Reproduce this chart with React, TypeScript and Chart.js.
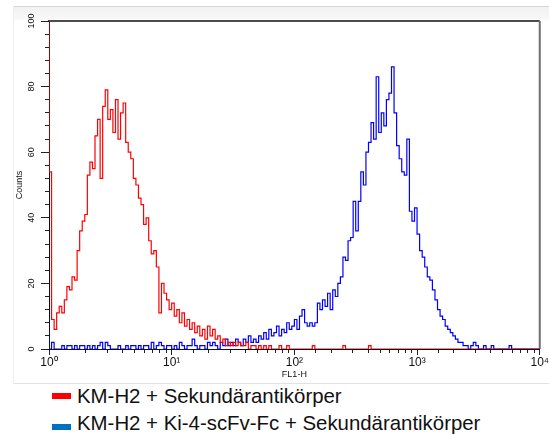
import React, { useEffect, useRef } from 'react';
import { Chart, registerables } from 'chart.js';

Chart.register(...registerables);

// ---- data -------------------------------------------------------------
const BINS_PER_DECADE = 48; // histogram bins are evenly spaced on the log axis
const X_MIN = 1;
const X_MAX = 10000;
const Y_MIN = 0;
const Y_MAX = 100;
const Y_LABEL_STEP = 20;
const Y_MINOR_STEP = 4;
const X_TICK_LABELS = ['10⁰', '10¹', '10²', '10³', '10⁴'];
const X_TITLE = 'FL1-H';
const Y_TITLE = 'Counts';
const SERIES_LABELS = [
  'KM-H2 + Sekundärantikörper',
  'KM-H2 + Ki-4-scFv-Fc + Sekundärantikörper',
];
const LINE_COLORS = ['#ff0000', '#0000ff'];
const LEGEND_COLORS = ['#ff0000', '#0070c0'];

// counts per bin (bin i sits at FL1-H = 10^(i / BINS_PER_DECADE))
const redCounts = [
  140, 54, 9, 6, 11, 13, 11, 15, 19, 18,
  22, 21, 30, 36, 39, 41, 53, 57, 55, 65,
  70, 52, 74, 79, 70, 73, 66, 76, 64, 72,
  75, 63, 60, 58, 52, 50, 46, 44, 38, 40,
  33, 29, 30, 25, 11, 20, 17, 15, 12, 14,
  10, 12, 8, 11, 7, 9, 6, 8, 5, 7,
  4, 6, 3, 7, 4, 6, 3, 4, 2, 3,
  1, 2, 1, 2, 1, 2, 1, 1, 2, 0,
  1, 1, 0, 1, 0, 1, 0, 1, 0, 0,
  0, 1, 0, 0, 1, 0, 0, 0, 0, 0,
  0, 0, 0, 0, 1, 0, 0, 0, 0, 0,
  0, 0, 0, 0, 0, 0, 1, 0, 0, 0,
  0, 0, 0, 0, 0, 0, 1, 0, 0, 0,
  0, 0, 0, 0, 0, 0, 0, 0, 0, 0,
  0, 0, 0, 0, 0, 0, 0, 0, 0, 0,
  0, 0, 0, 0, 0, 0, 0, 0, 0, 0,
  0, 0, 0, 0, 0, 0, 0, 0, 0, 0,
  0, 0, 0, 0, 0, 0, 0, 0, 0, 0,
  0, 0, 0, 0, 0, 0, 0, 0, 0, 0,
  0, 0, 0,
];

const blueCounts = [
  7, 0, 2, 0, 0, 0, 1, 0, 1, 1,
  0, 1, 0, 1, 1, 0, 1, 0, 1, 0,
  1, 2, 0, 2, 1, 0, 0, 0, 1, 0,
  0, 1, 0, 1, 1, 0, 1, 0, 1, 1,
  0, 2, 0, 1, 2, 1, 0, 1, 1, 0,
  1, 0, 2, 1, 0, 1, 1, 3, 1, 0,
  1, 1, 0, 2, 1, 2, 1, 0, 2, 1,
  3, 1, 2, 1, 3, 2, 1, 3, 2, 4,
  2, 3, 2, 4, 3, 5, 3, 6, 4, 5,
  7, 4, 6, 5, 8, 6, 7, 9, 6, 10,
  12, 8, 7, 8, 7, 8, 14, 12, 15, 13,
  17, 12, 18, 16, 20, 22, 28, 27, 33, 34,
  45, 36, 45, 54, 50, 60, 63, 69, 64, 83,
  66, 72, 68, 76, 78, 86, 72, 62, 58, 54,
  53, 64, 42, 39, 43, 35, 30, 28, 25, 22,
  21, 18, 15, 12, 10, 9, 7, 6, 5, 4,
  3, 2, 2, 1, 1, 0, 1, 2, 1, 0,
  0, 1, 0, 0, 1, 0, 0, 0, 0, 0,
  0, 1, 0, 0, 0, 0, 0, 0, 0, 0,
  0, 0, 0,
];

const toPoints = (counts: number[]) =>
  counts.map((c, i) => ({ x: Math.pow(10, i / BINS_PER_DECADE), y: c }));

const FONT = '"Liberation Sans", Arial, sans-serif';

const isDecade = (v: number) => {
  const e = Math.log10(v);
  return Math.abs(e - Math.round(e)) < 1e-6;
};

const framePlugin = {
  id: 'plotFrame',
  beforeDatasetsDraw(chart: any) {
    const { ctx, chartArea: a } = chart;
    ctx.save();
    ctx.strokeStyle = '#111';
    ctx.lineWidth = 1.5;
    ctx.beginPath();
    ctx.moveTo(a.left - 1, a.top);
    ctx.lineTo(a.right, a.top);
    ctx.stroke();
    ctx.strokeStyle = '#6f6f6f';
    ctx.lineWidth = 2;
    ctx.beginPath();
    ctx.moveTo(a.right, a.top);
    ctx.lineTo(a.right, a.bottom);
    ctx.stroke();
    ctx.restore();
  },
};

export default function App() {
  const canvasRef = useRef<HTMLCanvasElement | null>(null);

  useEffect(() => {
    if (!canvasRef.current) return;
    const chart = new Chart(canvasRef.current, {
      type: 'line',
      data: {
        datasets: [
          {
            label: SERIES_LABELS[0],
            data: toPoints(redCounts),
            borderColor: LINE_COLORS[0],
            borderWidth: 1.2,
            pointRadius: 0,
            stepped: 'after',
            fill: false,
          },
          {
            label: SERIES_LABELS[1],
            data: toPoints(blueCounts),
            borderColor: LINE_COLORS[1],
            borderWidth: 1.2,
            pointRadius: 0,
            stepped: 'after',
            fill: false,
          },
        ],
      },
      options: {
        animation: false,
        responsive: false,
        events: [],
        layout: {
          autoPadding: false,
          padding: { left: 13, top: 21, right: 3, bottom: 3 },
        },
        plugins: {
          legend: { display: false },
          tooltip: { enabled: false },
        },
        scales: {
          x: {
            type: 'logarithmic',
            min: X_MIN,
            max: X_MAX,
            afterFit: (s: any) => {
              s.height = 32;
            },
            border: { display: true, color: '#111', width: 1 },
            grid: {
              drawOnChartArea: false,
              drawTicks: true,
              tickLength: 6,
              tickColor: '#222',
              tickWidth: 1,
              tickBorderDash: (ctx: any) =>
                ctx.tick && isDecade(ctx.tick.value) ? [] : [3, 20],
            },
            ticks: {
              autoSkip: false,
              maxRotation: 0,
              minRotation: 0,
              padding: 0,
              color: '#111',
              font: { family: FONT, size: 12 },
              callback: (v: any) => {
                const n = Number(v);
                return isDecade(n) ? X_TICK_LABELS[Math.round(Math.log10(n))] : '';
              },
            },
            title: {
              display: true,
              text: X_TITLE,
              color: '#111',
              font: { family: FONT, size: 9 },
              padding: { top: 0, bottom: 1 },
            },
          },
          y: {
            type: 'linear',
            min: Y_MIN,
            max: Y_MAX,
            afterFit: (s: any) => {
              s.width = 36;
            },
            border: { display: true, color: '#111', width: 1 },
            grid: {
              drawOnChartArea: false,
              drawTicks: true,
              tickLength: 8,
              tickColor: '#222',
              tickWidth: 1,
              tickBorderDash: (ctx: any) =>
                ctx.tick && ctx.tick.value % Y_LABEL_STEP === 0 ? [] : [4, 4],
              tickBorderDashOffset: (ctx: any) =>
                ctx.tick && ctx.tick.value % Y_LABEL_STEP === 0 ? 0 : 4,
            },
            ticks: {
              stepSize: Y_MINOR_STEP,
              autoSkip: false,
              minRotation: 90,
              maxRotation: 90,
              crossAlign: 'center',
              padding: 2,
              color: '#111',
              font: { family: FONT, size: 9 },
              callback: (v: any) => (Number(v) % Y_LABEL_STEP === 0 ? String(v) : ''),
            },
            title: {
              display: true,
              text: Y_TITLE,
              color: '#111',
              font: { family: FONT, size: 9 },
              padding: { top: 1, bottom: 0 },
            },
          },
        },
      },
      plugins: [framePlugin],
    } as any);
    return () => chart.destroy();
  }, []);

  return (
    <div
      style={{
        position: 'fixed',
        left: 0,
        top: 0,
        width: 549,
        height: 434,
        background: '#fff',
        overflow: 'hidden',
        fontFamily: FONT,
      }}
    >
      <div
        style={{
          position: 'absolute',
          left: 13,
          top: 6,
          width: 540,
          height: 376,
          borderTop: '1px solid #d6d6d6',
          borderLeft: '1px solid #efefef',
          borderBottom: '1px solid #e2e2e2',
          background: 'linear-gradient(#f2f2f2 0px, #f8f8f8 12px, #ffffff 14px)',
        }}
      />
      <canvas
        ref={canvasRef}
        width={549}
        height={384}
        style={{ position: 'absolute', left: 0, top: 0, width: 549, height: 384 }}
      />
      {SERIES_LABELS.map((label, i) => (
        <React.Fragment key={label}>
          <div
            style={{
              position: 'absolute',
              left: 52,
              top: i === 0 ? 393 : 424,
              width: 19,
              height: 6,
              background: LEGEND_COLORS[i],
            }}
          />
          <div
            style={{
              position: 'absolute',
              left: 77,
              top: i === 0 ? 385.7 : 412.7,
              fontSize: 20.4,
              lineHeight: '20.4px',
              color: '#111',
              whiteSpace: 'nowrap',
            }}
          >
            {label}
          </div>
        </React.Fragment>
      ))}
    </div>
  );
}
